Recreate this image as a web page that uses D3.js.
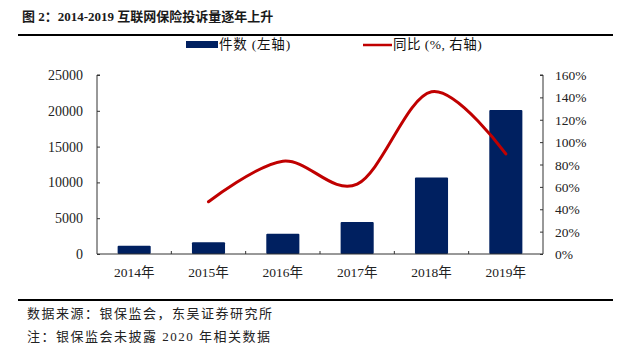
<!DOCTYPE html>
<html><head><meta charset="utf-8">
<script src="https://cdn.jsdelivr.net/npm/d3@7"></script>
<style>
body{margin:0;background:#fff;}
svg text{font-family:"Liberation Serif","Noto Sans CJK SC",serif;}
</style></head>
<body><svg id="c" width="632" height="352"></svg>
<script>
const categories = ["2014年","2015年","2016年","2017年","2018年","2019年"];
const counts = [1150, 1630, 2840, 4470, 10700, 20100];
const growth = [null, 46.7, 83, 62.5, 145, 89.4];
const leftTicks = [0,5000,10000,15000,20000,25000];
const rightTicks = [0,20,40,60,80,100,120,140,160];

const svg = d3.select("#c");
const L=97, R=543, T=75, B=254;
const x = d3.scaleBand().domain(categories).range([L,R]).paddingInner(0.555).paddingOuter(0.2775);
const xb = d3.scaleBand().domain(categories).range([L,R]);
const yL = d3.scaleLinear().domain([0,25000]).range([B,T]);
const yR = d3.scaleLinear().domain([0,160]).range([B,T]);
const navy="#002060", red="#C00000", axisC="#333";

// title
svg.append("text").attr("x",22).attr("y",21).attr("font-size",13).attr("font-weight","bold")
  .attr("fill","#1a1a1a").text("图 2：2014-2019 互联网保险投诉量逐年上升");
svg.append("line").attr("x1",18).attr("x2",613).attr("y1",35).attr("y2",35).attr("stroke","#000").attr("stroke-width",2);

// legend
svg.append("rect").attr("x",186).attr("y",41).attr("width",32).attr("height",7).attr("fill",navy);
svg.append("text").attr("x",219).attr("y",49).attr("font-size",13.5).attr("letter-spacing",0.8).attr("fill","#111").text("件数 (左轴)");
svg.append("line").attr("x1",363).attr("x2",392).attr("y1",45).attr("y2",45).attr("stroke",red).attr("stroke-width",2.5);
svg.append("text").attr("x",393).attr("y",49).attr("font-size",13.5).attr("letter-spacing",0.5).attr("fill","#111").text("同比 (%, 右轴)");

// bars
svg.append("g").selectAll("rect").data(counts).join("rect")
  .attr("x",(d,i)=>x(categories[i])).attr("width",x.bandwidth())
  .attr("y",d=>yL(d)).attr("height",d=>B-yL(d)).attr("fill",navy).attr("rx",1);

// axes
const gl = svg.append("g").attr("transform",`translate(${L},0)`)
  .call(d3.axisRight(yL).tickValues(leftTicks).tickSize(3).tickFormat(""));
gl.select(".domain").attr("d",`M3,${T}H0V${B}`);
gl.selectAll("line,path").attr("stroke",axisC);
svg.append("g").selectAll("text").data(leftTicks).join("text")
  .attr("x",83).attr("y",d=>yL(d)+5).attr("text-anchor","end").attr("font-size",14).attr("fill","#222").text(d=>d);

const gr = svg.append("g").attr("transform",`translate(${R},0)`)
  .call(d3.axisLeft(yR).tickValues(rightTicks).tickSize(3).tickFormat(""));
gr.select(".domain").attr("d",`M-3,${T}H0V${B}`);
gr.selectAll("line,path").attr("stroke",axisC);
svg.append("g").selectAll("text").data(rightTicks).join("text")
  .attr("x",555).attr("y",d=>yR(d)+5).attr("text-anchor","start").attr("font-size",13.5).attr("fill","#222").text(d=>d+"%");

const gx = svg.append("g").attr("transform",`translate(0,${B})`)
  .call(d3.axisTop(xb).tickSize(0).tickFormat(""));
gx.select(".domain").attr("d",`M${L},0H${R}`).attr("stroke",axisC);
svg.append("g").selectAll("line").data(categories.slice(1)).join("line")
  .attr("x1",d=>xb(d)).attr("x2",d=>xb(d)).attr("y1",B).attr("y2",B-3).attr("stroke",axisC);
svg.append("g").selectAll("text").data(categories).join("text")
  .attr("x",d=>xb(d)+xb.bandwidth()/2).attr("y",B+23).attr("text-anchor","middle")
  .attr("font-size",13.5).attr("fill","#222").text(d=>d);

// line
const pts = growth.map((g,i)=>({c:categories[i],g})).filter(d=>d.g!==null);
svg.append("path").datum(pts)
  .attr("d", d3.line().x(d=>xb(d.c)+xb.bandwidth()/2).y(d=>yR(d.g)).curve(d3.curveCardinal.tension(0)))
  .attr("fill","none").attr("stroke",red).attr("stroke-width",3).attr("stroke-linecap","round");

// footer
svg.append("line").attr("x1",18).attr("x2",613).attr("y1",300).attr("y2",300).attr("stroke","#000").attr("stroke-width",2);
svg.append("text").attr("x",27).attr("y",318).attr("font-size",13).attr("letter-spacing",1.5).attr("fill","#222").text("数据来源：银保监会，东吴证券研究所");
svg.append("text").attr("x",27).attr("y",341).attr("font-size",13).attr("letter-spacing",1.5).attr("fill","#222").text("注：银保监会未披露 2020 年相关数据");
</script></body></html>
